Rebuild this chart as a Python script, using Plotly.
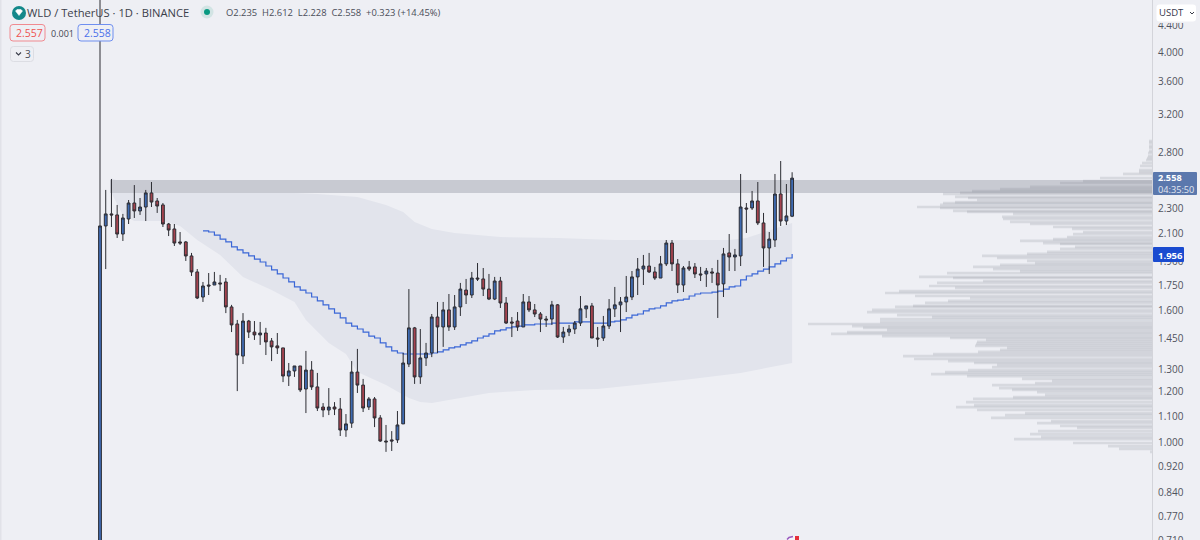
import math
import plotly.graph_objects as go

# Candles (TetherUS, daily)
opens = [0.55,2.159,2.253,2.245,2.098,2.213,2.342,2.277,2.309,2.427,2.359,2.326,2.174,2.136,2.04,2.04,1.941,1.834,1.678,1.751,
1.751,1.764,1.77,1.62,1.525,1.361,1.541,1.482,1.467,1.477,1.436,1.411,1.401,1.268,1.291,1.314,1.211,1.295,1.22,1.136,
1.124,1.136,1.128,1.047,1.073,1.286,1.228,1.136,1.169,1.093,1.007,1.011,1.011,1.07,1.323,1.504,1.264,1.352,1.376,1.563,
1.509,1.603,1.509,1.62,1.72,1.69,1.795,1.789,1.726,1.666,1.776,1.643,1.536,1.541,1.509,1.649,1.603,1.58,1.552,1.552,
1.632,1.456,1.482,1.498,1.53,1.609,1.626,1.451,1.451,1.514,1.609,1.632,1.649,1.678,1.802,1.853,1.873,1.834,1.795,1.887,
2.032,1.887,1.751,1.867,1.867,1.821,1.821,1.834,1.827,1.758,1.962,1.934,1.941,2.301,2.301,2.359,2.182,1.997,2.054,2.418,
2.197,2.235]
highs = [5.6,2.453,2.55,2.326,2.253,2.367,2.496,2.384,2.453,2.523,2.384,2.342,2.182,2.174,2.113,2.047,1.962,1.853,1.77,1.827,
1.834,1.815,1.795,1.632,1.547,1.585,1.547,1.541,1.536,1.504,1.451,1.477,1.401,1.328,1.314,1.314,1.386,1.337,1.282,1.152,
1.215,1.156,1.173,1.108,1.337,1.396,1.255,1.177,1.177,1.104,1.066,1.043,1.12,1.376,1.726,1.509,1.498,1.426,1.58,1.649,
1.649,1.696,1.69,1.764,1.789,1.834,1.893,1.86,1.821,1.802,1.802,1.678,1.563,1.591,1.696,1.684,1.637,1.591,1.569,1.655,
1.637,1.509,1.52,1.541,1.684,1.626,1.643,1.509,1.569,1.666,1.739,1.678,1.808,1.84,1.927,1.948,1.962,1.867,1.941,2.054,
2.054,1.92,1.873,1.907,1.893,1.867,1.86,1.86,1.914,1.997,2.098,1.99,2.596,2.342,2.444,2.523,2.261,2.113,2.596,2.718,
2.505,2.612]
lows = [0.55,1.853,2.151,2.069,2.047,2.174,2.221,2.245,2.197,2.309,2.261,2.151,2.083,2.011,2.018,1.907,1.808,1.666,1.649,1.69,
1.751,1.714,1.585,1.482,1.202,1.323,1.451,1.441,1.416,1.366,1.337,1.371,1.241,1.224,1.264,1.198,1.112,1.207,1.12,1.096,
1.104,1.104,1.025,1.022,1.055,1.194,1.116,1.124,1.058,1.004,0.969,0.972,1.0,1.07,1.309,1.233,1.233,1.314,1.356,1.376,
1.406,1.488,1.493,1.569,1.637,1.672,1.776,1.684,1.66,1.66,1.614,1.525,1.456,1.488,1.509,1.591,1.563,1.482,1.509,1.52,
1.451,1.426,1.461,1.472,1.514,1.558,1.451,1.406,1.436,1.498,1.563,1.482,1.591,1.66,1.69,1.751,1.827,1.783,1.795,1.873,
1.84,1.702,1.708,1.84,1.795,1.776,1.739,1.764,1.558,1.678,1.84,1.84,1.873,2.106,2.285,2.166,1.867,1.821,2.004,2.159,
2.166,2.228]
closes = [2.159,2.253,2.245,2.098,2.221,2.342,2.277,2.309,2.427,2.35,2.317,2.174,2.128,2.032,2.032,1.941,1.834,1.672,1.745,1.745,
1.77,1.758,1.62,1.52,1.366,1.541,1.482,1.467,1.477,1.431,1.406,1.401,1.268,1.291,1.314,1.207,1.295,1.22,1.132,1.124,
1.136,1.128,1.047,1.07,1.286,1.228,1.132,1.169,1.093,1.007,1.004,1.007,1.066,1.328,1.504,1.264,1.352,1.376,1.563,1.509,
1.603,1.509,1.62,1.726,1.69,1.795,1.789,1.726,1.666,1.776,1.643,1.53,1.53,1.509,1.649,1.603,1.58,1.552,1.547,1.632,
1.456,1.482,1.498,1.53,1.609,1.626,1.451,1.446,1.514,1.609,1.632,1.649,1.678,1.802,1.853,1.873,1.834,1.795,1.887,2.032,
1.887,1.751,1.86,1.853,1.821,1.815,1.84,1.827,1.751,1.955,1.934,1.948,2.309,2.293,2.359,2.182,1.997,2.061,2.418,2.197,
2.237,2.558]

# Stepped anchored average (ends on the last candle)
vwap = [2.121,2.113,2.09,2.061,2.04,2.004,1.983,1.962,1.941,1.92,1.9,1.873,1.847,1.821,1.795,1.77,1.739,1.72,1.702,1.678,
1.655,1.632,1.609,1.585,1.558,1.53,1.514,1.498,1.482,1.461,1.451,1.426,1.406,1.386,1.376,1.371,1.371,1.371,1.371,1.371,
1.376,1.381,1.391,1.401,1.406,1.416,1.426,1.436,1.451,1.461,1.472,1.488,1.493,1.504,1.509,1.514,1.52,1.52,1.525,1.525,
1.525,1.53,1.53,1.53,1.53,1.536,1.536,1.536,1.53,1.53,1.53,1.536,1.541,1.547,1.558,1.574,1.58,1.597,1.609,1.614,
1.626,1.643,1.655,1.66,1.666,1.684,1.696,1.702,1.702,1.708,1.714,1.726,1.739,1.745,1.783,1.808,1.821,1.84,1.853,1.867,
1.887,1.907,1.927,1.955]

# Shaded envelope, read at selected candles
upper_idx = [2,5,10,20,30,38,45,50,53,55,58,62,70,80,90,100,110,113,118,121]
upper_val = [2.559,2.487,2.453,2.444,2.435,2.418,2.393,2.326,2.269,2.19,2.136,2.106,2.076,2.069,2.054,2.054,2.054,2.069,2.136,2.182]
lower_idx = [2,4,6,11,14,17,21,25,30,34,36,40,43,45,50,54,56,58,64,68,76,87,102,112,121]
lower_val = [2.427,2.245,2.197,2.197,2.159,2.054,1.948,1.802,1.72,1.649,1.547,1.426,1.371,1.286,1.228,1.173,1.156,1.152,1.177,1.194,1.207,1.211,1.25,1.282,1.328]

# Resistance zone
zone_top, zone_bottom = 2.541, 2.427

# Volume profile
profile_price = [2.918,2.897,2.867,2.847,2.816,2.797,2.767,2.747,2.728,2.699,2.671,2.633,2.614,2.596,2.559,2.532,2.514,2.479,2.461,2.444,
2.427,2.418,2.393,2.384,2.367,2.35,2.342,2.326,2.309,2.301,2.277,2.269,2.253,2.229,2.213,2.19,2.174,2.151,2.136,2.113,
2.098,2.076,2.061,2.047,2.032,2.025,2.004,1.99,1.969,1.955,1.941,1.927,1.907,1.893,1.88,1.867,1.853,1.84,1.827,1.802,
1.795,1.776,1.764,1.745,1.733,1.714,1.702,1.684,1.672,1.655,1.643,1.626,1.62,1.603,1.591,1.574,1.563,1.552,1.536,1.525,
1.514,1.504,1.493,1.482,1.472,1.461,1.451,1.441,1.431,1.421,1.411,1.401,1.391,1.381,1.371,1.361,1.347,1.337,1.328,1.319,
1.309,1.295,1.286,1.277,1.268,1.255,1.246,1.237,1.228,1.215,1.207,1.198,1.186,1.177,1.169,1.156,1.144,1.136,1.124,1.112,
1.104,1.093,1.081,1.073,1.062,1.055,1.043,1.032,1.022,1.014,1.0,0.989,0.979,0.969]
profile_volume = [3,3,3,3,3,4,4,5,6,10,12,13,13,29,52,69,92,122,152,180,
192,209,197,184,175,197,209,212,235,212,199,185,139,150,149,142,122,99,80,69,
79,85,99,132,109,92,77,92,105,125,170,155,125,117,152,179,159,132,205,233,
199,169,215,223,197,253,267,237,182,204,227,239,257,280,285,255,220,272,272,344,
300,289,265,305,321,270,202,166,175,176,177,145,152,174,219,249,238,204,178,155,
160,184,207,221,185,130,100,117,160,153,140,115,107,139,179,186,178,196,175,127,
147,161,101,115,92,75,114,122,111,138,79,44,33,2]

tick_vals = [4.4,4.0,3.6,3.2,2.8,2.3,2.1,1.9,1.75,1.6,1.45,1.3,1.2,1.1,1.0,0.92,0.84,0.77]
tick_text = ["4.400","4.000","3.600","3.200","2.800","2.300","2.100","1.900","1.750","1.600","1.450","1.300","1.200","1.100","1.000","0.920","0.840","0.770"]

BG = "#eeeff4"
W, H = 1200, 540
PLOT_R = 1152
N = len(closes)
idx = list(range(N))
left_idx = -100 / 5.72
right_idx = (PLOT_R - 100) / 5.72

px = lambda v: v / PLOT_R
py = lambda v: 1 - v / H

fig = go.Figure()

# envelope
fig.add_trace(go.Scatter(x=upper_idx + lower_idx[::-1], y=upper_val + lower_val[::-1], mode="lines",
                         line=dict(width=0), fill="toself", fillcolor="#e2e4ec", hoverinfo="skip"))
# zone
fig.add_trace(go.Scatter(x=[1.75, right_idx, right_idx, 1.75], y=[zone_top, zone_top, zone_bottom, zone_bottom],
                         mode="lines", line=dict(width=0), fill="toself", fillcolor="#c8cad2", hoverinfo="skip"))
# stepped line
fig.add_trace(go.Scatter(x=idx[N - len(vwap):], y=vwap, mode="lines",
                         line=dict(color="#3a66d6", width=1.2, shape="hv"), hoverinfo="skip"))
# profile (overlaid volume axis)
for p, v in zip(profile_price, profile_volume):
    fig.add_trace(go.Scatter(x=[0, v], y=[p, p], xaxis="x2", mode="lines",
                             line=dict(color="rgba(125,128,142,0.2)", width=2.7), hoverinfo="skip"))
# candles (overlaid so they sit above the scatter layer)
fig.add_trace(go.Candlestick(x=idx, open=opens, high=highs, low=lows, close=closes, whiskerwidth=0, xaxis="x3",
    increasing=dict(line=dict(color="#2c2d33", width=1), fillcolor="#3f6bb2"),
    decreasing=dict(line=dict(color="#2c2d33", width=1), fillcolor="#a6434f"), hoverinfo="skip"))


def rrect(x0, y0, x1, y1, r=2):
    a, b, c, d = px(x0), px(x1), py(y0), py(y1)
    rx, ry = px(r), r / H
    return (f"M{a+rx},{c} L{b-rx},{c} Q{b},{c} {b},{c-ry} L{b},{d+ry} Q{b},{d} {b-rx},{d} "
            f"L{a+rx},{d} Q{a},{d} {a},{d+ry} L{a},{c-ry} Q{a},{c} {a+rx},{c} Z")


def box(x0, y0, x1, y1, fill, border=None, r=2):
    return dict(type="path", xref="paper", yref="paper", path=rrect(x0, y0, x1, y1, r), fillcolor=fill,
                line=dict(color=border or fill, width=1 if border else 0), layer="above")


def circ(cx, cy, r, fill):
    return dict(type="circle", xref="paper", yref="paper", x0=px(cx - r), x1=px(cx + r), y0=py(cy + r), y1=py(cy - r),
                fillcolor=fill, line=dict(width=0), layer="above")


def poly(pts, color, width=1.2, fill=None):
    d = "M" + " L".join(f"{px(a)},{py(b)}" for a, b in pts)
    return dict(type="path", xref="paper", yref="paper", path=d, line=dict(color=color, width=width),
                fillcolor=fill, layer="above")


shapes = [
    box(0, 0, 1.5, 540, "#e1e2e8", r=0),
    box(1153, 0, 1200, 23, BG, r=0),
    box(1156.5, 4.5, 1196, 21.5, "#ffffff", r=3),
    poly([(1190, 12), (1192, 14), (1194, 12)], "#3a3d4a", 1),
    box(1153, 172, 1197, 195, "#5b78ad", r=1),
    box(1153, 247, 1184, 262, "#1a4bd0", r=1),
    circ(19, 13, 7, "#14888a"),
    poly([(15.5, 11), (17, 9.5), (21, 9.5), (22.5, 11), (19, 15.5), (15.5, 11)], "#ffffff", 0.5, "#ffffff"),
    circ(207, 12, 6.5, "#d2e4e4"),
    circ(207, 12, 3, "#089981"),
    box(10, 24.5, 45, 41, BG, "#f08a90", r=3),
    box(78, 24.5, 113, 41, BG, "#6f8ff0", r=3),
    box(10.5, 46.5, 33.5, 61.5, BG, "#dcdde3", r=3),
    poly([(16, 52.5), (18.5, 55), (21, 52.5)], "#3a3d4a", 1.1),
    circ(793, 544, 8.5, "#f6f6f9"),
    poly([(787, 539.5), (789, 537.5), (793, 536.5)], "#9a5cc0", 1.6),
    box(795, 536, 799, 540, "#e5303a", r=0),
]

F = "Open Sans, sans-serif"


def label(x, y, text, size=11, color="#4a4d58", anchor="left"):
    return dict(xref="paper", yref="paper", x=px(x), y=py(y), text=text, showarrow=False, xanchor=anchor, yanchor="middle",
                font=dict(size=size, color=color, family=F), borderpad=0, borderwidth=0, align="left")


annotations = [
    label(27, 13, "WLD / TetherUS · 1D · BINANCE", 11.2, "#3b3e4a"),
    label(226, 13, "O2.235  H2.612  L2.228  C2.558  +0.323 (+14.45%)", 9.4, "#4a4d58"),
    label(15.5, 33, "2.557", 10.5, "#ef5350"),
    label(51, 33, "0.001", 9, "#434651"),
    label(84, 33, "2.558", 10.5, "#4a70ea"),
    label(25, 54, "3", 10, "#4a4d58"),
    label(1159, 12, "USDT", 9.5, "#33364a"),
    label(1158, 183.5, "<b>2.558</b><br><span style='color:#e3e7f0'>04:35:50</span>", 9.2, "#ffffff"),
    label(1158, 255, "<b>1.956</b>", 9.5, "#ffffff"),
    label(1158, 539.6, "0.710", 10, "#50535e"),
]

fig.update_layout(
    width=W, height=H, showlegend=False, paper_bgcolor=BG, plot_bgcolor=BG,
    margin=dict(l=0, r=W - PLOT_R, t=0, b=0), boxgap=0.3, shapes=shapes, annotations=annotations,
    xaxis=dict(range=[left_idx, right_idx], visible=False, rangeslider=dict(visible=False), fixedrange=True),
    xaxis2=dict(range=[PLOT_R, 0], overlaying="x", anchor="y", visible=False, fixedrange=True),
    xaxis3=dict(range=[left_idx, right_idx], overlaying="x", anchor="y", visible=False, fixedrange=True,
                rangeslider=dict(visible=False)),
    yaxis=dict(type="log", side="right", range=[math.log10(0.7089), math.log10(4.811)], showgrid=False, zeroline=False,
               tickmode="array", tickvals=tick_vals, ticktext=tick_text, ticks="outside", ticklen=3, tickcolor=BG,
               tickfont=dict(size=10, color="#50535e", family=F), showline=True, linecolor="#d3d4da", linewidth=1,
               fixedrange=True),
)

fig.write_html("out.html", config=dict(displayModeBar=False), post_script="document.body.style.margin='0';")
